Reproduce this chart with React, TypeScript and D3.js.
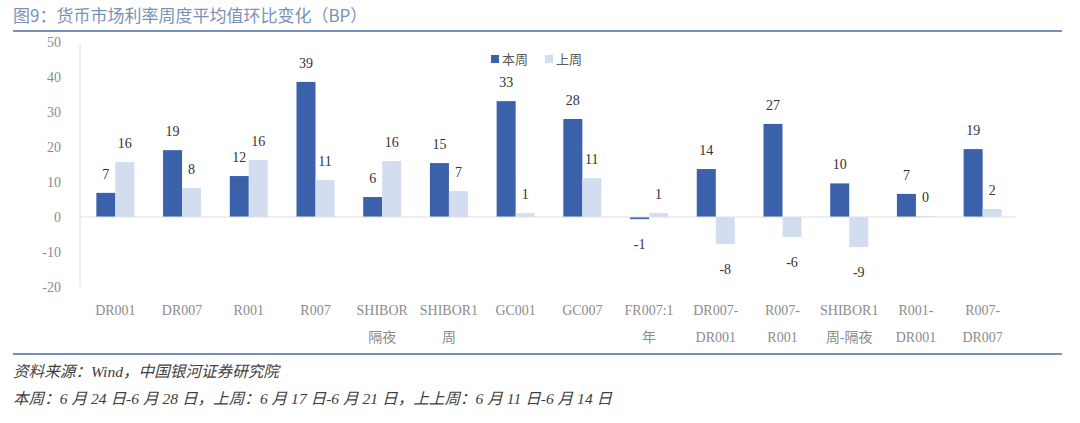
import React from "react";
import { scaleBand, scaleLinear } from "d3";

const categories = [
  "DR001", "DR007", "R001", "R007", "SHIBOR\n隔夜", "SHIBOR1\n周", "GC001",
  "GC007", "FR007:1\n年", "DR007-\nDR001", "R007-\nR001", "SHIBOR1\n周-隔夜",
  "R001-\nDR001", "R007-\nDR007",
];
const thisWeek = [6.9, 19.1, 11.7, 38.6, 5.7, 15.4, 33.1, 28, -0.6, 13.7, 26.6, 9.6, 6.6, 19.4];
const lastWeek = [15.7, 8.3, 16.3, 10.6, 16, 7.4, 1.1, 11.1, 1.1, -7.7, -5.7, -8.6, 0.3, 2.3];
const seriesNames = ["本周", "上周"];
const seriesColors = ["#3b61ab", "#d2deef"];
const yTicks = [50, 40, 30, 20, 10, 0, -10, -20];

const FONT = "'Liberation Serif', 'Noto Sans CJK SC', serif";
const CJK = "'Noto Sans CJK SC', sans-serif";

const App = () => {
  const width = 1080;
  const height = 423;

  const x = scaleBand<string>()
    .domain(categories)
    .range([82, 1016])
    .paddingInner(0.43)
    .paddingOuter(0.215);
  const x1 = scaleBand<string>().domain(seriesNames).range([0, x.bandwidth()]);
  const y = scaleLinear().domain([-20, 50]).range([287, 42]);

  const series = [thisWeek, lastWeek];

  return (
    <svg width={width} height={height} style={{ display: "block", position: "absolute", left: 0, top: 0 }}>
      <rect width={width} height={height} fill="#fff" />
      {/* title */}
      <text x={13} y={22} fontFamily={CJK} fontSize={17} fill="#7d91b6">
        图9：货币市场利率周度平均值环比变化（BP）
      </text>
      <line x1={13} x2={1062} y1={31} y2={31} stroke="#7690b8" strokeWidth={2} />

      {/* y ticks */}
      {yTicks.map(t => (
        <text key={t} x={61} y={y(t) + 5} textAnchor="end" fontFamily={FONT} fontSize={14} fill="#8c8c8c">
          {t}
        </text>
      ))}
      <line x1={80} x2={80} y1={y(50) + 2} y2={y(-20)} stroke="#e0e0e0" />

      {/* bars */}
      {series.map((vals, si) =>
        vals.map((v, i) => {
          const bx = (x(categories[i]) ?? 0) + (x1(seriesNames[si]) ?? 0);
          const top = y(Math.max(0, v));
          const bottom = y(Math.min(0, v));
          const label = Math.round(v);
          const cx = bx + x1.bandwidth() / 2;
          return (
            <g key={`${si}-${i}`}>
              <rect x={bx} y={top} width={x1.bandwidth()} height={Math.max(0.5, bottom - top)} fill={seriesColors[si]} />
              <text
                x={cx}
                y={v >= 0 ? top - 14 : bottom + 30}
                textAnchor="middle"
                fontFamily={FONT}
                fontSize={14}
                fill="#333"
              >
                {label}
              </text>
            </g>
          );
        })
      )}
      <line x1={80} x2={1016} y1={y(0)} y2={y(0)} stroke="#e0e0e0" />

      {/* category labels */}
      {categories.map(c => (
        <text key={c} textAnchor="middle" fontFamily={FONT} fontSize={14} fill="#8c8c8c">
          {c.split("\n").map((line, li) => (
            <tspan key={li} x={(x(c) ?? 0) + x.bandwidth() / 2} y={315 + li * 27}>
              {line}
            </tspan>
          ))}
        </text>
      ))}

      {/* legend */}
      {seriesNames.map((s, i) => (
        <g key={s} transform={`translate(${491 + i * 54},55)`}>
          <rect width={8} height={8} fill={seriesColors[i]} />
          <text x={11} y={9} fontFamily={CJK} fontSize={13} fill="#595959">
            {s}
          </text>
        </g>
      ))}

      <line x1={13} x2={1062} y1={354} y2={354} stroke="#7690b8" strokeWidth={2} />

      {/* footer */}
      <text x={13} y={377} fontFamily={FONT} fontStyle="italic" fontSize={15.6} fill="#404040">
        资料来源：Wind，中国银河证券研究院
      </text>
      <text x={13} y={404} fontFamily={FONT} fontStyle="italic" fontSize={15.6} fill="#404040">
        本周：6 月 24 日-6 月 28 日，上周：6 月 17 日-6 月 21 日，上上周：6 月 11 日-6 月 14 日
      </text>
    </svg>
  );
};

export default App;
